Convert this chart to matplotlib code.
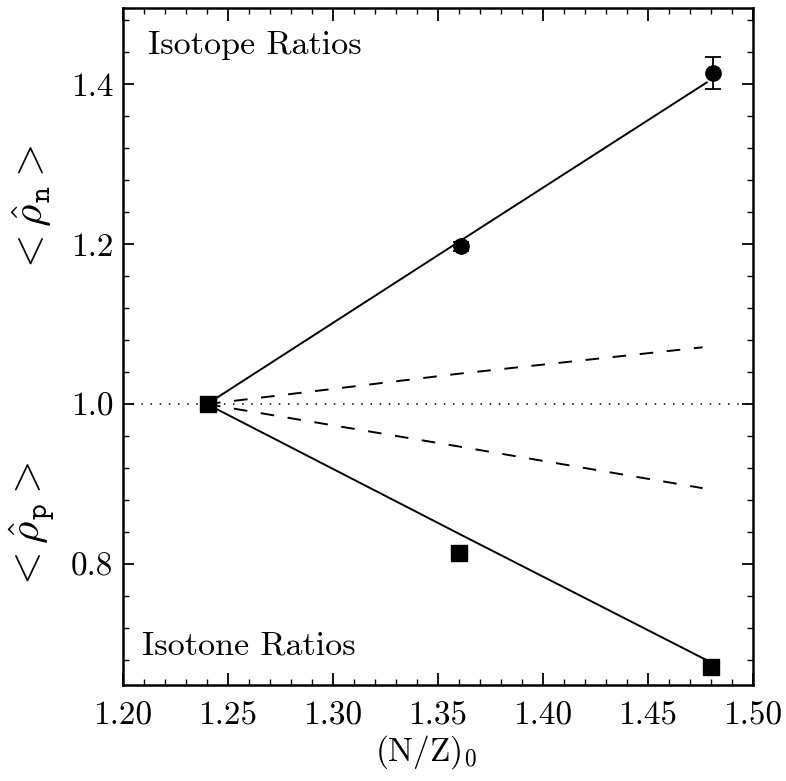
import matplotlib
matplotlib.use('Agg')
import matplotlib.pyplot as plt
from matplotlib.ticker import MultipleLocator

plt.rcParams['font.family'] = ['cmr10', 'DejaVu Serif']
plt.rcParams['mathtext.fontset'] = 'cm'
plt.rcParams['axes.formatter.use_mathtext'] = True

# data points (isotope = circles, isotone = squares)
iso_x = [1.361, 1.481]
iso_y = [1.197, 1.414]
iso_err = [0.006, 0.02]
itn_x = [1.2405, 1.360, 1.480]
itn_y = [1.000, 0.814, 0.671]

# theory curves
fit_x = [1.24, 1.36, 1.478]
fit_n = [1.0, 1.203, 1.402]
fit_p = [1.0, 0.838, 0.680]
dash_x = [1.24, 1.36, 1.476]
dash_n = [1.0, 1.038, 1.071]
dash_p = [1.0, 0.947, 0.895]

fig = plt.figure(figsize=(7.86, 7.81), dpi=100)
ax = fig.add_axes([0.1565, 0.1229, 0.8015, 0.8669])

ax.axhline(1.0, color='black', linestyle=(0, (1, 5)), linewidth=1.1)
ax.plot(fit_x, fit_n, color='black', linewidth=1.4)
ax.plot(fit_x, fit_p, color='black', linewidth=1.4)
ax.plot(dash_x, dash_n, color='black', linewidth=1.4, linestyle=(0, (7, 7)))
ax.plot(dash_x, dash_p, color='black', linewidth=1.4, linestyle=(0, (7, 7)))

ax.errorbar(iso_x, iso_y, yerr=iso_err, fmt='o', color='black', ms=11,
            capsize=5.5, elinewidth=1.3, capthick=1.3)
ax.plot(itn_x, itn_y, 's', color='black', ms=11)

ax.set_xlim(1.20, 1.50)
ax.set_ylim(0.649, 1.495)
ax.xaxis.set_minor_locator(MultipleLocator(0.01))
ax.yaxis.set_minor_locator(MultipleLocator(0.04))
ax.set_xticks([1.20, 1.25, 1.30, 1.35, 1.40, 1.45, 1.50])
ax.set_xticklabels(['1.20', '1.25', '1.30', '1.35', '1.40', '1.45', '1.50'])
ax.set_yticks([0.8, 1.0, 1.2, 1.4])
ax.set_yticklabels(['0.8', '1.0', '1.2', '1.4'])

ax.tick_params(which='both', direction='in', top=True, right=True, labelsize=24)
ax.tick_params(axis='x', which='major', length=9, width=1.3, pad=12)
ax.tick_params(axis='y', which='major', length=8, width=1.3, pad=7)
ax.tick_params(which='minor', length=4, width=1.0)
for s in ax.spines.values():
    s.set_linewidth(1.8)

ax.text(0.04, 0.944, 'Isotope Ratios', transform=ax.transAxes, fontsize=24.5,
        va='center', ha='left')
ax.text(0.03, 0.058, 'Isotone Ratios', transform=ax.transAxes, fontsize=24.5,
        va='center', ha='left')

fig.text(426 / 786, 1 - 752 / 781, r'(N/Z)$_0$', fontsize=24, ha='center', va='center')
fig.text(32 / 786, 1 - 210 / 781, r'${<}\hat{\rho}_{\mathtt{n}}{>}$', fontsize=31,
         rotation=90, ha='center', va='center')
fig.text(32 / 786, 1 - 527 / 781, r'${<}\hat{\rho}_{\mathtt{p}}{>}$', fontsize=31,
         rotation=90, ha='center', va='center')

fig.savefig('out.png', dpi=100)
